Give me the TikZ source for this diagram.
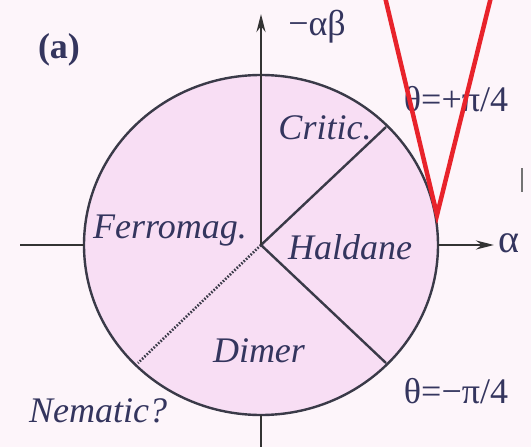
\documentclass[tikz,border=0pt]{standalone}
\usepackage{fontspec}
\setmainfont{Liberation Serif}
\usetikzlibrary{arrows.meta}
\definecolor{bg}{HTML}{FDF5FA}
\definecolor{disk}{HTML}{F8DEF4}
\definecolor{ink}{HTML}{34355E}
\definecolor{edge}{HTML}{3A3A48}
\definecolor{vred}{HTML}{E8232B}
\begin{document}
\begin{tikzpicture}[x=1pt,y=-1pt,
  lbl/.style={text=ink,font=\fontsize{36}{40}\selectfont\itshape,inner sep=0pt},
  rlbl/.style={text=ink,font=\fontsize{36}{40}\selectfont,inner sep=0pt},
  axis/.style={draw=black!80,line width=2.6pt},
  bnd/.style={draw=edge,line width=2.4pt},
  dotbnd/.style={draw=edge,line width=2.6pt,dash pattern=on 1.6pt off 1.6pt},
  tip/.style={-{Stealth[length=18pt,width=9pt]}},
  redline/.style={draw=vred,line width=4.5pt,line join=miter}]
\fill[bg] (0,0) rectangle (531,447);
\useasboundingbox (0,0) rectangle (531,447);
% geometry
\coordinate (O) at (261,245);
\coordinate (ytop) at (261,14);
\coordinate (ybot) at (261,447);
\coordinate (cbot) at (261,415);
\coordinate (xl) at (20,245);
\coordinate (cl) at (84,245);
\coordinate (cr) at (438,245);
\coordinate (xr) at (494,245);
\coordinate (pu) at (386,127);
\coordinate (pd) at (386,363);
\coordinate (pl) at (138,363);
% disk
\fill[disk] (O) ellipse [x radius=177, y radius=170];
% boundaries
\draw[bnd] (O) -- (pu);
\draw[bnd] (O) -- (pd);
\draw[dotbnd] (O) -- (pl);
\draw[bnd] (O) ellipse [x radius=177, y radius=170];
% axes
\draw[axis,tip] (O) -- (ytop);
\draw[axis] (cbot) -- (ybot);
\draw[axis] (xl) -- (cl);
\draw[axis,tip] (cr) -- (xr);
% labels
\node[rlbl,font=\fontsize{36}{40}\selectfont\bfseries] (lab) at (59,50) {(a)};
\node[rlbl] (lay) at (317,27) {−αβ};
\node[rlbl,font=\fontsize{40}{44}\selectfont] (lax) at (509,243) {α};
\node[rlbl] (tp) at (456,99) {θ=+π/4};
\node[rlbl] (tm) at (456,391) {θ=−π/4};
\node[lbl] (crit) at (325,128) {Critic.};
\node[lbl] (ferro) at (170,231) {Ferromag.};
\node[lbl] (hald) at (350,247) {Haldane};
\node[lbl] (dim) at (259,351) {Dimer};
\node[lbl] (nem) at (98,411) {Nematic?};
% small mark at right edge
\coordinate (m1) at (522,168);
\coordinate (m2) at (522,192);
\draw[draw=black!55,line width=1.2pt] (m1) -- (m2);
% red V
\coordinate (vl) at (385,-3);
\coordinate (vt) at (437,215);
\coordinate (vr) at (491,-3);
\draw[redline] (vl) -- (vt) -- (vr);
\end{tikzpicture}
\end{document}
